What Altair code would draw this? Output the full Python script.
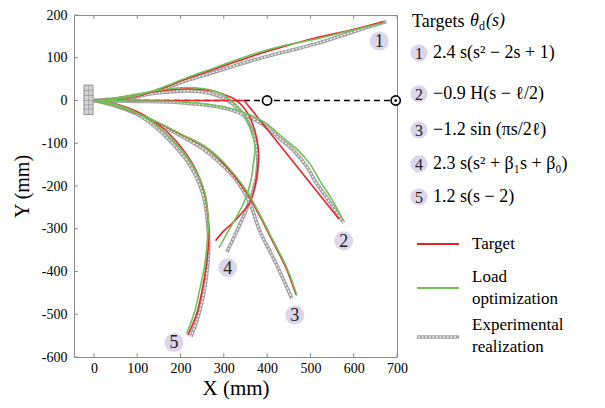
import altair as alt
import pandas as pd

# ---------------- data ----------------
X_TICKS = [0, 100, 200, 300, 400, 500, 600, 700]
Y_TICKS = [-600, -500, -400, -300, -200, -100, 0, 100, 200]

# curve 1
T1_X = [0, 50, 100, 133, 170, 206, 283, 360, 437, 514, 591, 668]
T1_Y = [0, 2, 10, 20, 33, 48, 75, 102, 126, 147, 164, 184]
L1_X = [0, 50, 100, 135, 170, 206, 283, 360, 437, 514, 591, 670]
L1_Y = [0, 3, 12, 22, 35, 50, 78, 106, 128, 144, 163, 182]
E1_X = [0, 50, 100, 135, 170, 206, 283, 360, 437, 514, 591, 676]
E1_Y = [0, 2, 9, 18, 30, 44, 68, 92, 113, 133, 158, 185]
# curve 2
T2_X = [0, 347, 566]
T2_Y = [0, 0, -277]
L2_X = [0, 100, 200, 314, 391, 440, 470, 500, 522, 550, 576]
L2_Y = [0, -1, -3, -18, -49, -90, -115, -150, -188, -232, -281]
E2_X = [0, 100, 200, 310, 385, 428, 462, 492, 512, 545, 577]
E2_Y = [0, -2, -5, -20, -53, -88, -118, -155, -190, -238, -286]
# curve 3
T3_X = [0, 50, 100, 150, 200, 255, 298, 350, 383, 412, 443, 467]
T3_Y = [0, -12, -31, -53, -79, -108, -146, -212, -270, -328, -390, -455]
L3_X = [0, 50, 100, 150, 200, 256, 300, 353, 385, 414, 445, 469]
L3_Y = [0, -12, -30, -52, -78, -107, -145, -212, -270, -328, -390, -456]
E3_X = [0, 50, 100, 150, 200, 250, 290, 330, 360, 383, 420, 457]
E3_Y = [0, -13, -32, -56, -82, -112, -145, -188, -240, -305, -380, -463]
# curve 4
T4_X = [0, 50, 100, 150, 199, 250, 276, 300, 322, 353, 372, 380, 378, 372, 360, 340, 322, 300, 281]
T4_Y = [0, 5, 14, 22, 27, 26, 22, 14, 5, -26, -72, -115, -160, -200, -239, -265, -285, -305, -328]
L4_X = [0, 50, 100, 150, 199, 250, 290, 314, 345, 365, 372, 368, 362, 348, 325, 305, 289]
L4_Y = [0, 6, 15, 24, 30, 28, 18, 2, -30, -75, -110, -150, -190, -235, -280, -315, -345]
E4_X = [0, 50, 100, 150, 199, 250, 290, 320, 350, 370, 378, 376, 365, 348, 328, 307]
E4_Y = [0, 4, 11, 18, 22, 20, 10, -8, -40, -85, -130, -175, -220, -265, -310, -355]
# curve 5
T5_X = [0, 50, 114, 176, 229, 255, 264, 265, 259, 250, 237, 217]
T5_Y = [0, -8, -33, -80, -150, -215, -280, -330, -390, -444, -500, -549]
L5_X = [0, 50, 110, 172, 227, 256, 264, 262, 255, 244, 231, 214]
L5_Y = [0, -9, -35, -82, -150, -215, -280, -330, -390, -444, -500, -545]
E5_X = [0, 50, 110, 170, 224, 252, 263, 265, 260, 252, 238, 224]
E5_Y = [0, -10, -38, -88, -155, -220, -290, -350, -410, -460, -515, -553]

CURVES = [
    ("1", "target", T1_X, T1_Y), ("1", "load", L1_X, L1_Y), ("1", "exp", E1_X, E1_Y),
    ("2", "target", T2_X, T2_Y), ("2", "load", L2_X, L2_Y), ("2", "exp", E2_X, E2_Y),
    ("3", "target", T3_X, T3_Y), ("3", "load", L3_X, L3_Y), ("3", "exp", E3_X, E3_Y),
    ("4", "target", T4_X, T4_Y), ("4", "load", L4_X, L4_Y), ("4", "exp", E4_X, E4_Y),
    ("5", "target", T5_X, T5_Y), ("5", "load", L5_X, L5_Y), ("5", "exp", E5_X, E5_Y),
]

LABEL_TEXT = ["1", "2", "3", "4", "5"]
LABEL_X = [659, 577, 464, 309, 185]
LABEL_Y = [139, -328, -502, -391, -566]

BASE_X = [-23, -2]
BASE_Y = [-33, 36]
BASE_LINES_Y = [24, 12, 0, -10, -20]
BASE_LINE_X = [-12]

DASH_X = [0, 697]
RING_X = [400, 697]
DOT_X = [697]

EQUATIONS = [
    "2.4 s(s² − 2s + 1)",
    "−0.9 H(s − ℓ/2)",
    "−1.2 sin (πs/2ℓ)",
    "2.3 s(s² + β₁s + β₀)",
    "1.2 s(s − 2)",
]

# ---------------- build ----------------
rows = []
for curve, kind, xs, ys in CURVES:
    for i, (xv, yv) in enumerate(zip(xs, ys)):
        rows.append({"curve": curve, "kind": kind, "x": xv, "y": yv, "i": i})
df = pd.DataFrame(rows)

SERIF = "Liberation Serif, DejaVu Serif, serif"
RED = "#e3262b"
GREEN = "#72c059"
FRAME = "#8c8c8c"
LAV = "#ddd5ea"
INTERP = "catmull-rom"

xscale = alt.Scale(domain=[-46, 700], nice=False, zero=False)
yscale = alt.Scale(domain=[-600, 200], nice=False, zero=False)

xaxis = alt.Axis(values=X_TICKS, ticks=False, domain=False, grid=False,
                 labelFont=SERIF, labelFontSize=14, labelColor="black",
                 labelPadding=4, labelFlush=False, labelOverlap=False,
                 labelExpr="'' + datum.value",
                 title="X (mm)", titleFont=SERIF, titleFontSize=21,
                 titleFontWeight="normal", titleColor="black", titlePadding=2)
yaxis = alt.Axis(values=Y_TICKS, ticks=False, domain=False, grid=False,
                 labelFont=SERIF, labelFontSize=14, labelColor="black",
                 labelPadding=7, labelFlush=False, labelOverlap=False,
                 labelExpr="'' + datum.value",
                 title="Y (mm)", titleFont=SERIF, titleFontSize=20,
                 titleFontWeight="normal", titleColor="black", titlePadding=9)


def X(field="x"):
    return alt.X(f"{field}:Q", scale=xscale, axis=xaxis)


def Y(field="y"):
    return alt.Y(f"{field}:Q", scale=yscale, axis=yaxis)


layers = []

# base block
base_df = pd.DataFrame({"x": [BASE_X[0]], "x2": [BASE_X[1]], "y": [BASE_Y[0]], "y2": [BASE_Y[1]]})
layers.append(alt.Chart(base_df).mark_rect(fill="#d4d4d4", stroke="#7a7a7a", strokeWidth=0.8).encode(
    x=X(), x2="x2:Q", y=Y(), y2="y2:Q"))
bl = pd.DataFrame({"y": BASE_LINES_Y, "x": BASE_X[0], "x2": BASE_X[1]})
layers.append(alt.Chart(bl).mark_rule(color="#8a8a8a", strokeWidth=0.6).encode(
    x=X(), x2="x2:Q", y=Y()))
bv = pd.DataFrame({"x": BASE_LINE_X, "y": BASE_Y[0], "y2": BASE_Y[1]})
layers.append(alt.Chart(bv).mark_rule(color="#8a8a8a", strokeWidth=0.6).encode(
    x=X(), y=Y(), y2="y2:Q"))

# inward ticks
tb = pd.DataFrame({"x": X_TICKS, "y": -600, "y2": -591})
layers.append(alt.Chart(tb).mark_rule(color=FRAME, strokeWidth=1).encode(x=X(), y=Y(), y2="y2:Q"))
tt = pd.DataFrame({"x": X_TICKS, "y": 200, "y2": 191})
layers.append(alt.Chart(tt).mark_rule(color=FRAME, strokeWidth=1).encode(x=X(), y=Y(), y2="y2:Q"))
tl = pd.DataFrame({"y": Y_TICKS, "x": -46, "x2": -37})
layers.append(alt.Chart(tl).mark_rule(color=FRAME, strokeWidth=1).encode(x=X(), x2="x2:Q", y=Y()))

# dashed reference line
dash_df = pd.DataFrame({"x": [DASH_X[0]], "x2": [DASH_X[1]], "y": [0]})
layers.append(alt.Chart(dash_df).mark_rule(color="black", strokeWidth=1.6, strokeDash=[6, 4]).encode(
    x=X(), x2="x2:Q", y=Y()))

# curves
line_base = alt.Chart(df)
layers.append(line_base.transform_filter(alt.datum.kind == "exp").mark_line(
    color="#a0a0a0", strokeWidth=3.6, clip=True, interpolate=INTERP).encode(
    x=X(), y=Y(), detail="curve:N", order="i:Q"))
layers.append(line_base.transform_filter(alt.datum.kind == "exp").mark_line(
    color="#f2f2f2", strokeWidth=1.4, strokeDash=[2, 1.6], clip=True, interpolate=INTERP).encode(
    x=X(), y=Y(), detail="curve:N", order="i:Q"))
layers.append(line_base.transform_filter(alt.datum.kind == "target").mark_line(
    color=RED, strokeWidth=1.6, clip=True, interpolate="linear").encode(
    x=X(), y=Y(), detail="curve:N", order="i:Q").transform_filter(alt.datum.curve == "2"))
layers.append(line_base.transform_filter(alt.datum.kind == "target").transform_filter(
    alt.datum.curve != "2").mark_line(
    color=RED, strokeWidth=1.6, clip=True, interpolate=INTERP).encode(
    x=X(), y=Y(), detail="curve:N", order="i:Q"))
layers.append(line_base.transform_filter(alt.datum.kind == "load").mark_line(
    color=GREEN, strokeWidth=1.6, clip=True, interpolate=INTERP).encode(
    x=X(), y=Y(), detail="curve:N", order="i:Q"))

# ring markers on dashed line
ring_df = pd.DataFrame({"x": RING_X, "y": 0})
layers.append(alt.Chart(ring_df).mark_point(shape="circle", filled=True, fill="white", stroke="black",
                                            strokeWidth=1.6, size=85, opacity=1).encode(x=X(), y=Y()))
dot_df = pd.DataFrame({"x": DOT_X, "y": 0})
layers.append(alt.Chart(dot_df).mark_circle(color="black", size=7, opacity=1).encode(x=X(), y=Y()))

# curve number labels
lab_df = pd.DataFrame({"x": LABEL_X, "y": LABEL_Y, "t": LABEL_TEXT})
layers.append(alt.Chart(lab_df).mark_circle(color=LAV, size=360, opacity=1).encode(x=X(), y=Y()))
layers.append(alt.Chart(lab_df).mark_text(font=SERIF, fontSize=18, color="#222222", baseline="middle",
                                          align="center", dy=1).encode(x=X(), y=Y(), text="t:N"))

# ---------------- side legend (pixel positions relative to plot area) ----------------
one = pd.DataFrame({"a": [0]})


def txt(s, px, py, size=17, style="normal", align="left", color="black"):
    return alt.Chart(one).mark_text(text=s, font=SERIF, fontSize=size, fontStyle=style, align=align,
                                    baseline="middle", color=color).encode(
        x=alt.value(px), y=alt.value(py))


layers.append(txt("Targets", 338, 7, size=18))
layers.append(txt("θ", 396, 6, size=18, style="italic"))
layers.append(txt("d", 405, 11, size=12))
layers.append(txt("(s)", 412, 6, size=18, style="italic"))

ITEM_Y = [38, 79, 115, 149, 182]
for num, eq, py in zip(LABEL_TEXT, EQUATIONS, ITEM_Y):
    layers.append(alt.Chart(one).mark_circle(color=LAV, size=300, opacity=1).encode(
        x=alt.value(345), y=alt.value(py)))
    layers.append(txt(num, 345, py + 1, size=16, align="center", color="#222222"))
    layers.append(txt(eq, 359, py, size=18))

# line-type legend
layers.append(alt.Chart(one).mark_rule(color=RED, strokeWidth=1.8).encode(
    x=alt.value(343), x2=alt.value(385), y=alt.value(229)))
layers.append(alt.Chart(one).mark_rule(color=GREEN, strokeWidth=1.8).encode(
    x=alt.value(343), x2=alt.value(385), y=alt.value(273)))
layers.append(alt.Chart(one).mark_rule(color="#a0a0a0", strokeWidth=3.6).encode(
    x=alt.value(343), x2=alt.value(385), y=alt.value(322)))
layers.append(alt.Chart(one).mark_rule(color="#f2f2f2", strokeWidth=1.4, strokeDash=[2, 1.6]).encode(
    x=alt.value(344), x2=alt.value(384), y=alt.value(322)))
layers.append(txt("Target", 398, 229, size=17))
layers.append(txt("Load", 398, 262, size=17))
layers.append(txt("optimization", 398, 284, size=17))
layers.append(txt("Experimental", 398, 310, size=17))
layers.append(txt("realization", 398, 332, size=17))

chart = alt.layer(*layers).properties(
    width=323, height=342,
    autosize=alt.AutoSizeParams(type="none"),
    padding={"left": 66, "top": 7, "right": 200, "bottom": 50},
).configure_view(stroke=FRAME, strokeWidth=1)

chart.save("out.html", embed_options={"renderer": "svg", "actions": False})
